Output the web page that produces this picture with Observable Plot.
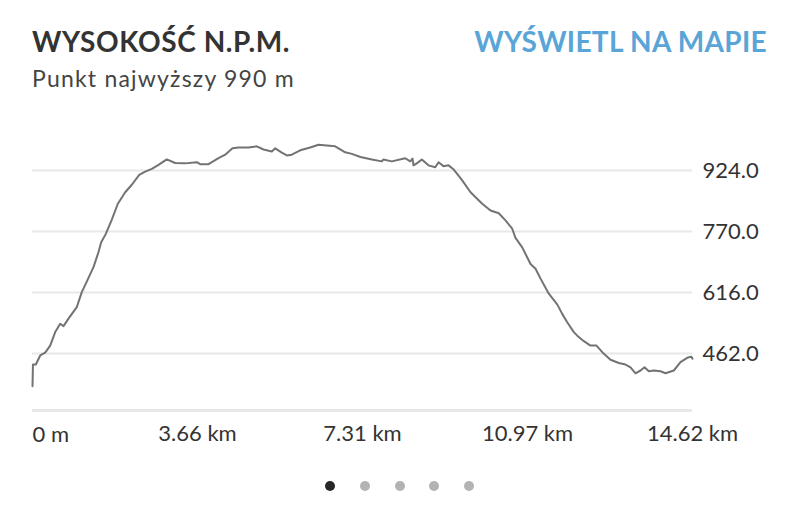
<!DOCTYPE html>
<html>
<head>
<meta charset="utf-8">
<script src="https://cdn.jsdelivr.net/npm/d3@7"></script>
<script src="https://cdn.jsdelivr.net/npm/@observablehq/plot@0.6"></script>
<style>
  html, body { margin: 0; padding: 0; background: #fff; }
  body { width: 800px; height: 505px; position: relative; overflow: hidden; font-family: Lato, "Open Sans", sans-serif; }
  .title { position: absolute; left: 32px; top: 27px; font-size: 28px; line-height: 28px; font-weight: 700; color: #333; letter-spacing: 0.6px; white-space: nowrap; }
  .link { position: absolute; right: 33px; top: 27px; font-size: 28px; line-height: 28px; font-weight: 700; color: #5aa5d8; letter-spacing: 0.3px; white-space: nowrap; }
  .subtitle { position: absolute; left: 32px; top: 67px; font-size: 23px; line-height: 23px; color: #444; letter-spacing: 1.2px; white-space: nowrap; }
  #chart { position: absolute; left: 0; top: 120px; }
  .dots { position: absolute; top: 481px; left: 0; width: 800px; height: 10px; }
  .dot { position: absolute; width: 10px; height: 10px; border-radius: 50%; background: #b3b3b3; }
</style>
</head>
<body>
<div class="title">WYSOKOŚĆ N.P.M.</div>
<div class="link">WYŚWIETL NA MAPIE</div>
<div class="subtitle">Punkt najwyższy 990 m</div>
<div id="chart"></div>
<div class="dots" id="dots"></div>
<script>
// Distance along the route (km)
const distKm = [0, 0.01, 0.073, 0.171, 0.281, 0.392, 0.503, 0.614, 0.687, 0.797, 0.981, 1.092, 1.225, 1.351, 1.462, 1.522, 1.624, 1.757, 1.890, 2.054, 2.200, 2.364, 2.497, 2.643, 2.791, 2.975, 3.161, 3.383, 3.640, 3.715, 3.899, 4.121, 4.269, 4.430, 4.563, 4.785, 4.969, 5.117, 5.301, 5.376, 5.523, 5.633, 5.744, 5.930, 6.152, 6.336, 6.520, 6.705, 6.927, 7.073, 7.266, 7.516, 7.738, 7.775, 7.959, 8.256, 8.367, 8.418, 8.440, 8.513, 8.624, 8.772, 8.921, 8.994, 9.105, 9.215, 9.326, 9.437, 9.519, 9.703, 9.962, 10.146, 10.329, 10.478, 10.626, 10.699, 10.848, 11.032, 11.143, 11.254, 11.437, 11.623, 11.734, 11.845, 11.991, 12.067, 12.213, 12.361, 12.494, 12.656, 12.804, 12.988, 13.136, 13.247, 13.358, 13.469, 13.557, 13.653, 13.763, 13.912, 14.022, 14.206, 14.354, 14.503, 14.591, 14.62];
// Elevation (m)
const elevM = [379, 434, 434, 457, 464, 482, 516, 537, 531, 550, 579, 617, 649, 680, 718, 743, 764, 800, 840, 869, 888, 913, 921, 928, 938, 952, 943, 942, 945, 940, 940, 955, 964, 980, 982, 982, 985, 977, 972, 980, 969, 962, 964, 975, 982, 989, 987, 985, 970, 966, 958, 952, 947, 952, 947, 955, 947, 954, 937, 942, 952, 937, 932, 945, 935, 937, 927, 911, 899, 869, 840, 823, 816, 798, 777, 754, 730, 688, 676, 651, 613, 586, 562, 541, 516, 507, 493, 482, 482, 461, 446, 438, 434, 427, 412, 419, 427, 417, 419, 417, 412, 419, 440, 451, 454, 449];

const yTicks = [462, 616, 770, 924];
const xTicks = [0, 3.655, 7.31, 10.965, 14.62];
const xTickLabels = ["0 m", "3.66 km", "7.31 km", "10.97 km", "14.62 km"];
const pageDots = [true, false, false, false, false];

const data = distKm.map((d, i) => ({d, e: elevM[i]}));
const labelAt = new Map(xTicks.map((t, i) => [t, xTickLabels[i]]));

const chart = Plot.plot({
  width: 800,
  height: 330,
  marginLeft: 32,
  marginRight: 108,
  marginTop: 10,
  marginBottom: 40,
  style: {fontFamily: "Lato, 'Open Sans', sans-serif", color: "#333", background: "transparent", overflow: "visible"},
  x: {domain: [0, 14.62]},
  y: {domain: [318, 1025]},
  marks: [
    Plot.ruleY(yTicks, {stroke: "#e8e8e8", strokeWidth: 2}),
    Plot.ruleY([318], {stroke: "#e8e8e8", strokeWidth: 3}),
    Plot.line(data, {x: "d", y: "e", stroke: "#737373", strokeWidth: 2, curve: "linear", strokeLinejoin: "round"}),
    Plot.axisY(yTicks, {anchor: "right", tickSize: 0, tickPadding: 10, fontSize: 22, fill: "#333", tickFormat: d => d.toFixed(1), label: null}),
    Plot.axisX(xTicks.slice(1), {anchor: "bottom", tickSize: 0, tickPadding: 15, fontSize: 22, fill: "#333", tickFormat: d => labelAt.get(d), label: null}),
    Plot.text([xTicks[0]], {x: d => d, frameAnchor: "bottom", dy: 31, textAnchor: "start", fontSize: 22, fill: "#333", text: d => labelAt.get(d)})
  ]
});
document.getElementById("chart").appendChild(chart);

const dotsEl = document.getElementById("dots");
const dotX = [325, 360, 395, 429, 464];
pageDots.forEach((active, i) => {
  const el = document.createElement("div");
  el.className = "dot";
  el.style.left = dotX[i] + "px";
  if (active) el.style.background = "#262626";
  dotsEl.appendChild(el);
});
</script>
</body>
</html>
